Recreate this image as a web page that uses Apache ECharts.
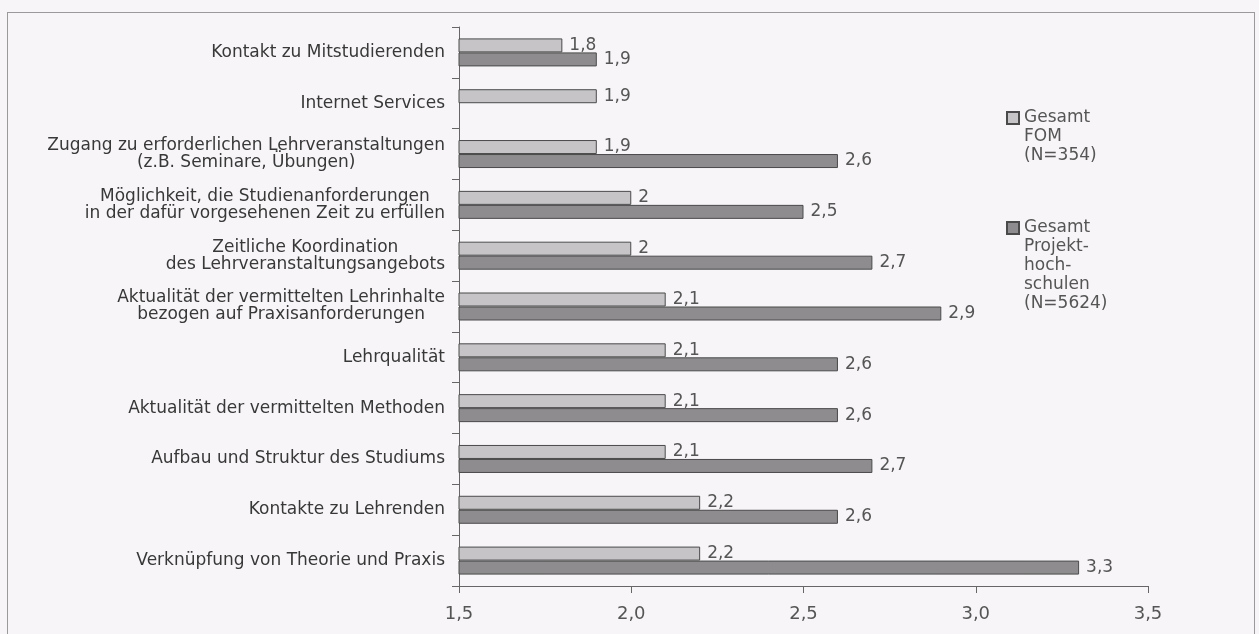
<!DOCTYPE html>
<html>
<head>
<meta charset="utf-8">
<script src="https://cdn.jsdelivr.net/npm/echarts@6/dist/echarts.min.js"></script>
<style>
  html, body { margin: 0; padding: 0; background: #f7f5f8; }
  #frame { position: absolute; left: 7px; top: 12px; width: 1248px; height: 640px; border: 1px solid #9a9a9a; box-sizing: border-box; }
  #chart { position: absolute; left: 0; top: 0; width: 1259px; height: 634px; }
</style>
</head>
<body>
<div id="frame"></div>
<div id="chart"></div>
<script>
// Survey items, top to bottom
const categories = [
  'Kontakt zu Mitstudierenden',
  'Internet Services',
  'Zugang zu erforderlichen Lehrveranstaltungen\n(z.B. Seminare, Übungen)',
  'Möglichkeit, die Studienanforderungen\nin der dafür vorgesehenen Zeit zu erfüllen',
  'Zeitliche Koordination\ndes Lehrveranstaltungsangebots',
  'Aktualität der vermittelten Lehrinhalte\nbezogen auf Praxisanforderungen',
  'Lehrqualität',
  'Aktualität der vermittelten Methoden',
  'Aufbau und Struktur des Studiums',
  'Kontakte zu Lehrenden',
  'Verknüpfung von Theorie und Praxis'
];

// Mean ratings
const fomValues = [1.8, 1.9, 1.9, 2.0, 2.0, 2.1, 2.1, 2.1, 2.1, 2.2, 2.2];
const projektValues = [1.9, null, 2.6, 2.5, 2.7, 2.9, 2.6, 2.6, 2.7, 2.6, 3.3];

const seriesNames = ['Gesamt\nFOM\n(N=354)', 'Gesamt\nProjekt-\nhoch-\nschulen\n(N=5624)'];

// x axis scale
const xMin = 1.5, xMax = 3.5, xStep = 0.5;

const fmtComma = v => (Math.round(v * 10) / 10).toString().replace('.', ',');
const fmtTick = v => v.toFixed(1).replace('.', ',');

const FONT = '"DejaVu Sans", "Liberation Sans", Arial, sans-serif';
const LEG_LH = 19;

// Legend entry whose square sits beside the first line of a multi-line name:
// blank lines above the name keep the text block centred on the marker.
function legendFor(name, top) {
  const n = name.split('\n').length;
  return {
    orient: 'vertical',
    left: 1006,
    top: top,
    padding: 0,
    itemWidth: 12,
    itemHeight: 12,
    itemGap: 7,
    icon: 'rect',
    data: [name],
    formatter: nm => '\n'.repeat(n - 1) + nm,
    textStyle: { fontFamily: FONT, fontSize: 17, color: '#555', lineHeight: LEG_LH }
  };
}

const chart = echarts.init(document.getElementById('chart'), null, { renderer: 'canvas' });

const labelStyle = {
  show: true,
  position: 'right',
  distance: 7,
  color: '#555',
  fontFamily: FONT,
  fontSize: 17,
  formatter: p => fmtComma(p.value)
};

chart.setOption({
  backgroundColor: 'transparent',
  animation: false,
  grid: { left: 459, right: 111, top: 27, bottom: 48, containLabel: false },
  legend: [
    legendFor(seriesNames[0], 118 - 2.5 * LEG_LH),
    legendFor(seriesNames[1], 228 - 4.5 * LEG_LH)
  ],
  xAxis: {
    type: 'value',
    min: xMin,
    max: xMax,
    interval: xStep,
    splitLine: { show: false },
    axisLine: { show: true, lineStyle: { color: '#666', width: 1 } },
    axisTick: { show: true, length: 7, lineStyle: { color: '#666' } },
    axisLabel: { color: '#555', fontFamily: FONT, fontSize: 18, margin: 19, formatter: fmtTick }
  },
  yAxis: {
    type: 'category',
    data: categories,
    inverse: true,
    axisLine: { show: true, lineStyle: { color: '#666', width: 1 } },
    axisTick: { show: true, length: 7, lineStyle: { color: '#666' } },
    axisLabel: {
      margin: 14,
      align: 'right',
      // lines of a two-line item are centred on each other
      formatter: v => v.split('\n').map(l => '{c|' + l + '}').join('\n'),
      rich: {
        c: { align: 'center', color: '#383838', fontFamily: FONT, fontSize: 17, lineHeight: 17 }
      }
    }
  },
  series: [
    {
      name: seriesNames[0],
      type: 'bar',
      data: fomValues,
      barWidth: 14,
      barGap: '0%',
      itemStyle: { color: '#c6c4c7', borderColor: '#4a4a4a', borderWidth: 1 },
      label: labelStyle
    },
    {
      name: seriesNames[1],
      type: 'bar',
      data: projektValues,
      barWidth: 14,
      barGap: '0%',
      itemStyle: { color: '#8e8c8f', borderColor: '#4a4a4a', borderWidth: 1 },
      label: labelStyle
    }
  ]
});
</script>
</body>
</html>
